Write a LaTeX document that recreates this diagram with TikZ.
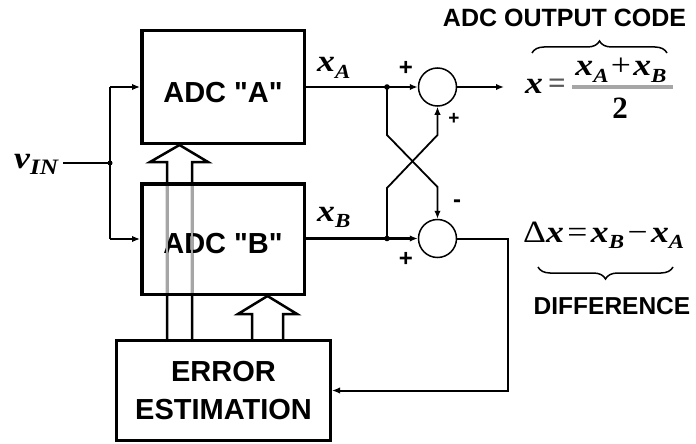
\documentclass[tikz,border=0pt]{standalone}
\usepackage{fontspec}
\setmainfont{Liberation Serif}
\newfontfamily\arialfont{Liberation Sans}
\usetikzlibrary{arrows.meta,decorations.pathreplacing}
\newcommand{\bxi}[1]{{\bfseries\itshape #1}}
\newcommand{\subx}[1]{\raisebox{-6pt}{\fontsize{20}{20}\selectfont\bfseries\itshape #1}}
\newcommand{\wide}[1]{\scalebox{1.15}[1]{#1}}
\begin{document}
\begin{tikzpicture}[x=1pt,y=-1pt,
  sansb/.style={font=\arialfont\bfseries\fontsize{#1}{#1}\selectfont},
  adc/.style={draw, line width=3.5pt, minimum width=162.5pt, inner sep=0pt,
    font=\arialfont\bfseries\fontsize{29}{34}\selectfont, text depth=0pt},
  errbox/.style={draw, line width=3pt, minimum width=214pt, minimum height=100pt,
    inner sep=0pt, align=center, font=\arialfont\bfseries\fontsize{29}{38}\selectfont},
  sum/.style={draw, circle, minimum size=38pt, inner sep=0pt, line width=1.5pt},
  mathlbl/.style={inner sep=0pt, font=\fontsize{31}{31}\selectfont},
  tip/.style={-{Latex[length=8pt,width=6.5pt]}},
  inw/.style={line width=1.5pt},
  ow/.style={line width=2.5pt},
  cw/.style={line width=1.8pt},
  fw/.style={line width=2pt},
  hollow/.style={line width=2.5pt, line join=miter},
  ghost/.style={line width=2.5pt, draw=black!35},
  pm/.style={inner sep=0pt, font=\arialfont\bfseries\fontsize{24}{24}\selectfont},
  brc/.style={decorate, line width=1.5pt, decoration={brace, amplitude=12pt}}
]
\useasboundingbox (0,0) rectangle (696,444);

% boxes
\node[adc, minimum height=112.5pt, text height=30.7pt] (adcA) at (223,87) {ADC "A"};
\node[adc, minimum height=110.5pt, text height=28.7pt] (adcB) at (223,239) {ADC "B"};
\node[errbox] (err) at (223.5,390.5) {ERROR\\ESTIMATION};

% input
\node[mathlbl, anchor=base west, font=\fontsize{31}{31}\selectfont] (vin) at (14,168) {\wide{\bxi{v}\raisebox{-6pt}{\fontsize{22}{22}\selectfont\bfseries\itshape IN}}};
\coordinate (vj) at (110,163);
\draw[ow] (63,163) -- (vj);
\draw[inw] (adcA.west -| vj) -- (adcB.west -| vj);
\draw[inw,tip] (adcA.west -| vj) -- (adcA.west);
\draw[inw,tip] (adcB.west -| vj) |- (adcB.west);
\fill (vj) circle (2.5pt);

% hollow arrows
\draw[hollow] (167,0 |- err.north) -- (167,162) -- (150,162) -- (179.5,0 |- adcA.south)
  -- (208,162) -- (192,162) -- (192,0 |- err.north);
\draw[ghost] (167,185.5) -- (167,292.5);
\draw[ghost] (192,185.5) -- (192,292.5);
\draw[hollow] (252,0 |- err.north) -- (252,314) -- (238,314) -- (267.5,0 |- adcB.south)
  -- (297,314) -- (283,314) -- (283,0 |- err.north);

% summing nodes
\node[sum] (s1) at (437.5,87) {};
\node[sum] (s2) at (437.5,238.5) {};
\coordinate (ja) at (387,87);
\coordinate (jb) at (387,238.5);

\draw[ow,tip] (adcA.east |- s1) -- (s1.west);
\draw[ow,tip] (adcB.east |- s2) -- (s2.west);
\fill (ja) circle (2.8pt);
\fill (jb) circle (2.8pt);

\draw[cw,tip] (ja) -- (387,135) -- (437.5,187) -- (s2.north);
\draw[cw,tip] (jb) -- (387,188) -- (437.5,135) -- (s1.south);

\coordinate (xout) at (504,87);
\draw[ow,tip] (s1.east) -- (xout);
\draw[fw,tip] (s2.east) -- (508,238.5) |- (err.east);

% signs
\node[pm] (p1) at (406,68) {+};
\node[pm, font=\arialfont\bfseries\fontsize{19}{19}\selectfont] (p2) at (454,119) {+};
\node[pm] (m1) at (457,204) {-};
\node[pm] (p3) at (406,259) {+};

% wire labels
\node[mathlbl, anchor=base west] (lxa) at (317,72) {\wide{\bxi{x}\subx{A}}};
\node[mathlbl, anchor=base west] (lxb) at (317,221) {\wide{\bxi{x}\subx{B}}};

% output formula
\node[sansb=25] (code) at (564.5,18) {ADC OUTPUT CODE};
\draw[brc] (532,53) -- (667,53);
\node[mathlbl, anchor=base] (fx) at (534,93) {\wide{\bxi{x}}};
\node[mathlbl, anchor=base, text=black!65] (feq) at (557,93) {\bfseries =};
\draw[line width=4pt, draw=black!35] (572,87) -- (673,87);
\node[mathlbl, anchor=base] (num) at (621,76) {\wide{\bxi{x}\subx{A}\hspace{2pt}+\hspace{2pt}\bxi{x}\subx{B}}};
\node[mathlbl, anchor=base] (den) at (620,118) {\textbf{2}};

% difference formula
\node[mathlbl, anchor=base west] (dx) at (523,242) {\wide{Δ\bxi{x}\hspace{3pt}=\hspace{3pt}\bxi{x}\subx{B}\hspace{3pt}−\hspace{3pt}\bxi{x}\subx{A}}};
\draw[brc] (673,267) -- (538,267);
\node[sansb=24.5] (diff) at (612,306) {DIFFERENCE};
\end{tikzpicture}
\end{document}
